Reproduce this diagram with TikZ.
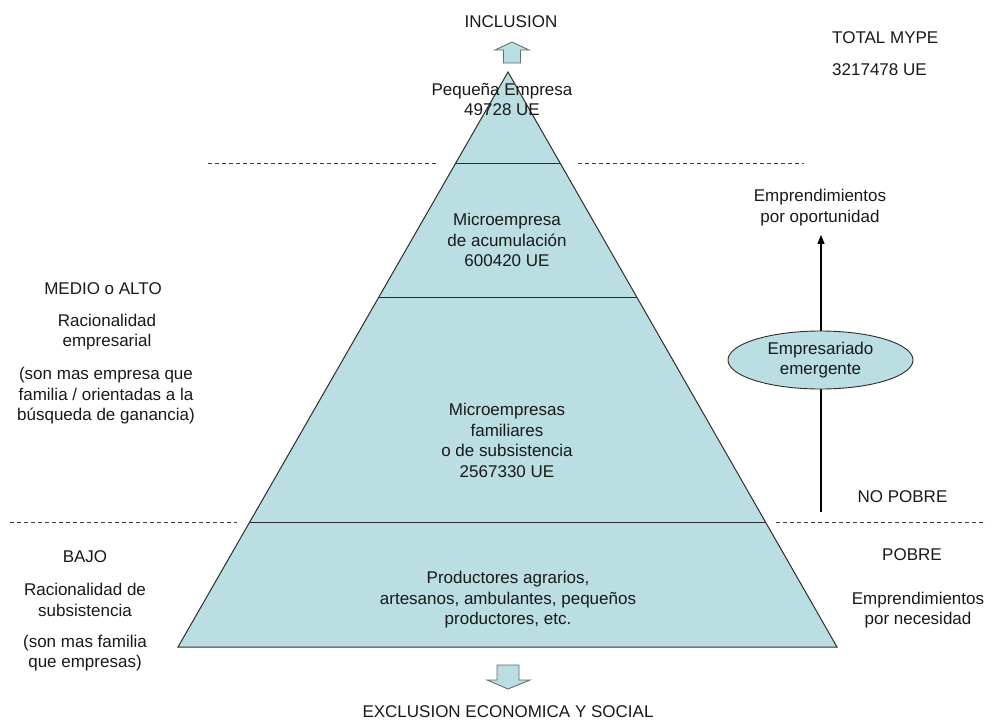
\documentclass[tikz,border=0pt]{standalone}
\usepackage{fontspec}
\setmainfont{Liberation Sans}
\usetikzlibrary{arrows.meta,shapes.geometric,calc}
\definecolor{pyr}{RGB}{186,222,226}
\definecolor{edgec}{RGB}{45,45,45}
\definecolor{blockedge}{RGB}{100,110,112}
\definecolor{txt}{RGB}{25,25,25}
\definecolor{dashc}{RGB}{60,60,60}
\begin{document}
\begin{tikzpicture}[x=1pt,y=-1pt,
  every node/.style={font=\fontsize{17}{20.5}\selectfont, text=txt, align=center, inner sep=0pt},
  edgeline/.style={draw=edgec, line width=1pt},
  dashline/.style={draw=dashc, line width=0.9pt, dash pattern=on 4pt off 3pt},
  blockarrow/.style={fill=pyr, draw=blockedge, line width=0.9pt, line join=miter},
  upline/.style={draw=black, line width=1.1pt, -{Triangle[length=9pt,width=7pt]}},
  ovalbox/.style={ellipse, draw=edgec, fill=pyr, line width=0.9pt, minimum width=185pt, minimum height=58pt}]
\useasboundingbox (0,0) rectangle (997,724);
% pyramid
\coordinate (apex) at (508,72);
\coordinate (bl) at (178,647);
\coordinate (br) at (837,647);
\fill[pyr] (apex) -- (br) -- (bl) -- cycle;
\coordinate (l1) at ($(apex)!0.15826!(bl)$);
\coordinate (r1) at ($(apex)!0.15826!(br)$);
\coordinate (l2) at ($(apex)!0.39130!(bl)$);
\coordinate (r2) at ($(apex)!0.39130!(br)$);
\coordinate (l3) at ($(apex)!0.78261!(bl)$);
\coordinate (r3) at ($(apex)!0.78261!(br)$);
\draw[edgeline] (l1) -- (r1);
\draw[edgeline] (l2) -- (r2);
\draw[edgeline] (l3) -- (r3);
\draw[edgeline, line join=miter] (apex) -- (br) -- (bl) -- cycle;
% dashed separators
\coordinate (d1a) at (208,163); \coordinate (d1b) at (438,163);
\coordinate (d2a) at (578,163); \coordinate (d2b) at (804,163);
\coordinate (d3a) at (10,522);  \coordinate (d3b) at (237,522);
\coordinate (d4a) at (776,522); \coordinate (d4b) at (986,522);
\draw[dashline] (d1a) -- (d1b);
\draw[dashline] (d2a) -- (d2b);
\draw[dashline] (d3a) -- (d3b);
\draw[dashline] (d4a) -- (d4b);
% block arrows
\draw[blockarrow] (512,42) -- (529,50) -- (520.5,50) -- (520.5,63) -- (503.5,63) -- (503.5,50) -- (495,50) -- cycle;
\draw[blockarrow] (508,689) -- (530,680) -- (519,680) -- (519,665) -- (497,665) -- (497,680) -- (487,680) -- cycle;
% texts
\node (incl) at (511,22) {INCLUSION};
\node (excl) at (508,712) {EXCLUSION ECONOMICA Y SOCIAL};
\node[anchor=west] (total) at (832,38) {TOTAL MYPE};
\node[anchor=west] (totnum) at (832,70) {3217478 UE};
\node (peq) at (502,99.5) {Peque\~na Empresa\\49728 UE};
\node (acum) at (507,240) {Microempresa\\de acumulaci\'on\\600420 UE};
\node (fam) at (507,440.5) {Microempresas\\familiares\\o de subsistencia\\2567330 UE};
\node (prod) at (508,600) {Productores agrarios,\\artesanos, ambulantes, peque\~nos\\productores, etc.};
% left
\node (medio) at (103,289) {MEDIO o ALTO};
\node (racemp) at (107,332) {Racionalidad\\empresarial};
\node (sonemp) at (106,396) {(son mas empresa que\\familia / orientadas a la\\b\'usqueda de ganancia)};
\node (bajo) at (85,557) {BAJO};
\node (racsub) at (85,600) {Racionalidad de\\subsistencia};
\node (sonfam) at (85,653) {(son mas familia\\que empresas)};
% right
\node (oport) at (820,207.5) {Emprendimientos\\por oportunidad};
\coordinate (lowend) at (821,512);
\draw[upline, shorten >=9pt] (lowend) -- (oport.south -| lowend);
\node[ovalbox] (emerg) at (820.5,360) {Empresariado\\emergente};
\node (nopobre) at (902.5,497) {NO POBRE};
\node (pobre) at (912,555) {POBRE};
\node (necesidad) at (918,610) {Emprendimientos\\por necesidad};
\end{tikzpicture}
\end{document}
